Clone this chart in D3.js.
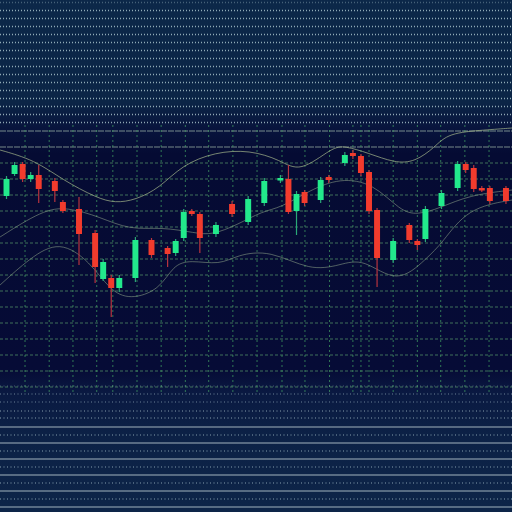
<!DOCTYPE html>
<html><head><meta charset="utf-8">
<script src="https://cdn.jsdelivr.net/npm/d3@7"></script>
<style>html,body{margin:0;padding:0;background:#07103a;}svg{display:block;}</style>
</head><body>
<svg id="chart" width="512" height="512"></svg>
<script>
// ---- data (day index, OHLC) ----
const days  = [0,1,2,3,4,6,7,9,11,12,13,14,16,18,20,21,22,23,24,26,28,30,32,34,35,36,37,39,40,42,43,44,45,46,48,50,51,52,54,56,57,58,59,60,62];
const open  = [67,78,83,75.5,77.5,74.5,64,60.5,48.5,25.5,26,21,26,45,41,38.5,46,59.5,58,48,63,54,63.5,75,75.5,59.5,69,65,76.5,83.5,88.5,87,79,60,35,52.5,44.5,45.5,62,71,83,81,71,71,71];
const close = [75.5,82.5,75.5,77.5,70.5,69.5,59.5,48,31.5,34,21,26,45,37.5,38,44.5,59,58,46,52.5,58,65.5,74.5,76,59,68,63.5,75,75,87.5,87,78.5,59.5,36,44.5,45,42.5,60.5,68.5,83,80,70.5,70.5,64.5,64.5];
const high  = [77,84,84,79,82.5,76,65,66.5,50,35.5,27.5,27.5,46.5,46,42,45.5,60.5,60.5,59,54,64.5,67,76,77.5,82.5,69.5,70,76.5,77.5,89,90,88,80,61,46,53.5,45.5,62,70,84.5,84,82.5,72,72,72];
const low   = [65.5,77,74,74,63.5,64,58.5,32.5,23.5,24.5,6.5,19,24,36,31.5,37,44.5,57,38.5,46.5,56.5,52.5,62,73.5,58,47.5,62,63.5,73.5,82,85.5,77,58,21.5,33.5,43.5,40,44,60.5,69.5,78.5,69,69,63,63];

// band lines: [day index, price]
const upperBand = [[-0.8,90],[3.5,85],[7,75],[11.2,66],[13.5,63.5],[16,65],[19,71],[21.8,82.5],[25.9,89],[30.2,90],[34,85],[36.4,78.5],[40.5,91.5],[42,92],[44.9,88.5],[48.2,83.5],[50.7,84],[53.2,91.5],[54.8,98.5],[59.4,100],[62.75,101]];
const midBand   = [[-0.8,46.5],[4.5,60],[7.5,61.5],[11.6,56.5],[15.3,50],[19.3,51.5],[23.4,48.5],[25.5,47.5],[28.6,52.5],[31.8,59.5],[34,61],[37.7,70],[41.4,76],[45.5,73.5],[48.9,59.5],[51,57.5],[53.8,61],[57.5,67.5],[62.75,70]];
const lowerBand = [[-0.8,22.5],[2.9,36],[6.6,45],[10.4,34],[12.8,20],[15.3,15],[19,20],[20.7,32.5],[22.8,35],[26.5,32.5],[28.6,37.5],[32.7,40],[37.7,29.5],[41.4,32.5],[44.3,36],[48.5,22.5],[52.2,36],[54.1,43.5],[57.2,61],[62.75,65]];

// grid positions in data units
const xGrid = [2.3,5.3,8.25,11.2,13.2,16.2,19.2,22.2,25.1,28.1,31.1,34.2,37.05,40.1,43,44,45,48,51,53.9,56.9,59.9];

// ---- drawing ----
const W = 512, H = 512;
const svg = d3.select("#chart");
const x = d3.scaleLinear().domain([-0.807, 62.75]).range([0, W]);
const y = d3.scaleLinear().domain([0, 165]).range([330, 0]);

const defs = svg.append("defs");
const g = defs.append("linearGradient").attr("id","bg").attr("x1",0).attr("x2",0).attr("y1",0).attr("y2",1);
[[0,"#0c2849"],[0.2,"#0b2546"],[0.25,"#08143d"],[0.3,"#050b33"],[0.72,"#060b36"],[0.77,"#0a1a42"],[0.85,"#0c2146"],[1,"#0d2548"]]
  .forEach(([o,c]) => g.append("stop").attr("offset",o).attr("stop-color",c));
svg.append("rect").attr("width",W).attr("height",H).attr("fill","url(#bg)");

// top dotted lines
const topLines = d3.range(2.5, 125, 8);
svg.append("g").selectAll("line").data(topLines).join("line")
  .attr("x1",0).attr("x2",W).attr("y1",d=>d).attr("y2",d=>d)
  .attr("stroke","#c9e4e6").attr("stroke-width",1.3).attr("stroke-dasharray","1,2")
  .attr("opacity",(d,i)=> i===0 ? 0.3 : 0.7);

// middle grid: horizontal
const midLines = d3.range(131, 390, 16);
svg.append("g").selectAll("line").data(midLines).join("line")
  .attr("x1",0).attr("x2",W).attr("y1",d=>d).attr("y2",d=>d)
  .attr("stroke",(d,i)=> i<2 ? "#a7bfae" : "#4f8a64")
  .attr("stroke-width",1)
  .attr("stroke-dasharray",(d,i)=> i<2 ? "6,1" : "3,2")
  .attr("opacity",(d,i)=> i<2 ? 0.7 : 0.8);

// middle grid: vertical
svg.append("g").selectAll("line").data(xGrid).join("line")
  .attr("x1",d=>x(d)).attr("x2",d=>x(d)).attr("y1",125).attr("y2",392)
  .attr("stroke","#3f9c62").attr("stroke-width",1).attr("stroke-dasharray","2,3").attr("opacity",0.75);

// bottom dotted lines
const botDotted = [386,394,402,411,418,435,451,467,483,499];
svg.append("g").selectAll("line").data(botDotted).join("line")
  .attr("x1",0).attr("x2",W).attr("y1",d=>d).attr("y2",d=>d)
  .attr("stroke","#bcd6dc").attr("stroke-width",1.2).attr("stroke-dasharray","1,2.5")
  .attr("opacity",(d,i)=> i===0 ? 0.35 : (i<3 ? 0.55 : 0.7));
const botSolid = [427,443,459,475,491,507];
svg.append("g").selectAll("line").data(botSolid).join("line")
  .attr("x1",0).attr("x2",W).attr("y1",d=>d).attr("y2",d=>d)
  .attr("stroke","#c8d8dc").attr("stroke-width",1.1).attr("opacity",0.8);

// bands
const line = d3.line().x(d=>x(d[0])).y(d=>y(d[1])).curve(d3.curveBasis);
const bands = svg.append("g").attr("fill","none");
bands.append("path").attr("d",line(upperBand)).attr("stroke","#a5b88c").attr("stroke-width",1).attr("opacity",0.7);
bands.append("path").attr("d",line(midBand)).attr("stroke","#8fa58a").attr("stroke-width",1).attr("opacity",0.55);
bands.append("path").attr("d",line(lowerBand)).attr("stroke","#8fa58a").attr("stroke-width",1).attr("opacity",0.55);

// candles
const candles = days.map((d,i)=>({d, o:open[i], c:close[i], h:high[i], l:low[i]}));
const bw = (x(1)-x(0))*0.74;
const up = "#22e98c", down = "#f23b2d";
const cg = svg.append("g");
cg.selectAll("line").data(candles).join("line")
  .attr("x1",c=>x(c.d)).attr("x2",c=>x(c.d))
  .attr("y1",c=>y(c.h)).attr("y2",c=>y(c.l))
  .attr("stroke",c=> c.c>=c.o ? "#2aa877" : "#b8343e").attr("stroke-width",1.2);
cg.selectAll("rect").data(candles).join("rect")
  .attr("x",c=>x(c.d)-bw/2).attr("width",bw)
  .attr("y",c=>y(Math.max(c.o,c.c)))
  .attr("height",c=>Math.max(2.5, Math.abs(y(c.o)-y(c.c))))
  .attr("fill",c=> c.c>=c.o ? up : down);
</script>
</body></html>
